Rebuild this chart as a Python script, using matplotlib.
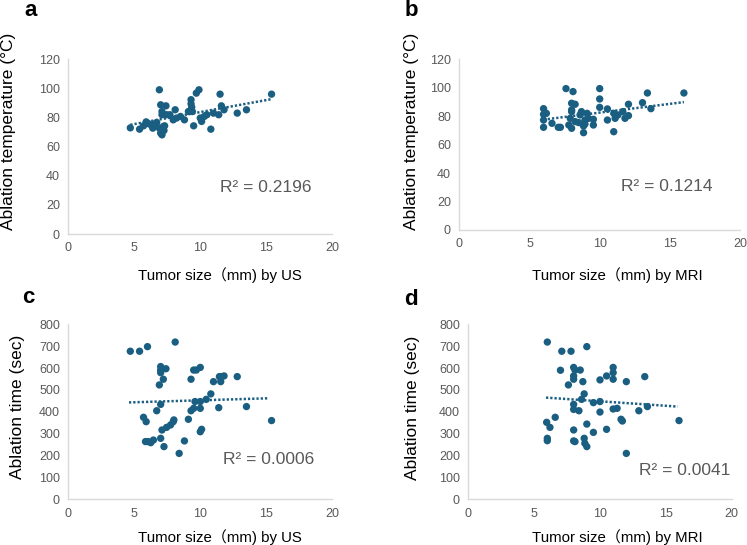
import numpy as np
import matplotlib
matplotlib.use("Agg")
import matplotlib.pyplot as plt

plt.rcParams['font.family'] = ['Liberation Sans', 'Noto Sans CJK SC', 'DejaVu Sans']

# panel a: tumor size by US vs ablation temperature
us_size_temp = [4.7, 5.4, 5.7, 5.9, 6.1, 6.3, 6.4, 6.6, 6.7, 6.9, 6.9, 7.0, 7.1, 7.0, 7.1, 7.1,
                7.2, 7.25, 7.3, 7.4, 7.45, 7.7, 7.95, 8.1, 8.2, 8.5, 8.8, 9.1, 9.3, 9.3, 9.35,
                9.4, 9.5, 9.7, 9.9, 10.0, 10.1, 10.3, 10.5, 10.8, 11.0, 11.4, 11.5, 11.6, 11.8,
                12.8, 13.5, 15.4]
temp_a = [72.8, 71.9, 74.2, 76.9, 75.6, 74.7, 72.6, 75.6, 76.5, 98.9, 72.6, 69.2, 68.0, 88.6,
          84.0, 81.8, 73.7, 71.0, 74.2, 87.9, 81.8, 81.8, 78.3, 85.2, 79.5, 80.6, 78.3, 84.0,
          92.1, 89.3, 87.0, 84.0, 74.2, 96.6, 98.9, 79.5, 77.2, 80.6, 81.8, 71.9, 82.9, 81.8,
          95.9, 87.9, 85.2, 82.9, 85.2, 95.9]

# panel b: tumor size by MRI vs ablation temperature
mri_size_temp = [6.0, 6.0, 6.2, 6.0, 6.0, 6.6, 7.05, 7.2, 7.6, 8.1, 8.0, 8.25, 8.0, 8.0, 7.9,
                 7.8, 8.0, 8.25, 8.5, 8.7, 8.6, 8.85, 8.85, 8.95, 9.1, 9.2, 8.95, 9.55, 9.55,
                 10.0, 10.0, 10.0, 10.55, 10.55, 11.0, 11.1, 11.0, 11.3, 11.65, 11.8, 12.05,
                 12.05, 13.05, 13.4, 13.65, 16.0]
temp_b = [85.3, 81.3, 82.0, 77.3, 72.2, 75.0, 72.2, 72.2, 99.4, 97.3, 89.1, 88.4, 84.4, 83.2,
          78.5, 73.8, 71.5, 76.2, 75.5, 83.2, 80.9, 73.1, 68.4, 77.3, 82.0, 78.5, 74.5, 77.8,
          73.8, 99.4, 92.1, 86.2, 85.1, 77.3, 82.0, 78.5, 69.1, 80.9, 83.2, 78.5, 80.4, 88.4,
          89.5, 96.3, 85.3, 96.3]

# panel c: tumor size by US vs ablation time
us_size_time = [4.7, 5.4, 6.0, 8.1, 7.0, 7.0, 7.0, 7.4, 7.2, 6.9, 7.0, 6.7, 5.7, 5.9, 5.85,
                6.05, 6.25, 6.45, 7.0, 7.25, 7.1, 7.45, 7.75, 7.95, 8.0, 8.4, 8.8, 9.1, 9.3,
                9.5, 9.7, 10.0, 9.3, 9.5, 9.6, 10.0, 10.0, 10.1, 10.0, 10.45, 10.8, 11.0,
                11.45, 11.55, 11.6, 11.8, 11.4, 12.8, 13.5, 15.4]
time_c = [677, 677, 698, 719, 607, 591, 579, 597, 549, 523, 434, 405, 375, 355, 264, 264, 259,
          271, 279, 241, 317, 329, 340, 355, 363, 210, 267, 366, 549, 591, 591, 603, 405, 416,
          447, 416, 447, 320, 309, 457, 482, 538, 561, 538, 561, 564, 419, 561, 424, 360]

# panel d: tumor size by MRI vs ablation time
mri_size_time = [6.0, 7.1, 7.8, 9.0, 7.0, 8.0, 8.1, 8.5, 8.0, 8.0, 8.7, 7.6, 8.8, 8.6, 8.0,
                 8.0, 8.4, 9.5, 10.0, 10.0, 10.0, 10.5, 11.0, 11.0, 11.0, 12.0, 11.0, 11.3,
                 11.6, 11.7, 12.95, 13.4, 13.6, 16.0, 5.95, 6.2, 6.0, 6.0, 6.6, 8.0, 8.0, 8.1,
                 8.8, 8.85, 9.0, 9.0, 9.5, 10.5, 12.0]
time_d = [719, 677, 677, 698, 590, 603, 591, 591, 564, 549, 538, 523, 482, 457, 434, 411, 405,
          442, 447, 399, 546, 564, 603, 579, 549, 538, 413, 416, 366, 358, 405, 561, 424, 360,
          352, 329, 279, 268, 375, 317, 267, 264, 279, 256, 241, 344, 306, 320, 210]

# linear trendlines as drawn in the figure: (x start, x end), (y start, y end)
trend_x = [(4.7, 15.4), (6.0, 16.0), (4.6, 15.2), (5.9, 15.9)]
trend_y = [(74.9, 92.5), (77.6, 89.9), (443, 462), (465, 424)]

panels = [
    ('a', us_size_temp, temp_a, 'Ablation temperature (°C)', 'Tumor size（mm) by US',
     [0, 20, 40, 60, 80, 100, 120], 'R² = 0.2196'),
    ('b', mri_size_temp, temp_b, 'Ablation temperature (°C)', 'Tumor size（mm) by MRI',
     [0, 20, 40, 60, 80, 100, 120], 'R² = 0.1214'),
    ('c', us_size_time, time_c, 'Ablation time (sec)', 'Tumor size（mm) by US',
     [0, 100, 200, 300, 400, 500, 600, 700, 800], 'R² = 0.0006'),
    ('d', mri_size_time, time_d, 'Ablation time (sec)', 'Tumor size（mm) by MRI',
     [0, 100, 200, 300, 400, 500, 600, 700, 800], 'R² = 0.0041'),
]

# axes rectangles in figure fractions, and label / text placement
rects = [[0.0914, 0.5706, 0.3534, 0.3211],
         [0.6149, 0.5780, 0.3758, 0.3132],
         [0.0914, 0.0838, 0.3534, 0.3211],
         [0.6269, 0.0838, 0.3526, 0.3211]]
ylab_pos = [(-0.225, 0.586), (-0.172, 0.577), (-0.193, 0.529), (-0.213, 0.525)]
xlab_pos = [(0.576, -0.234), (0.562, -0.264), (0.576, -0.214), (0.565, -0.214)]
r2_pos = [(11.5, 32), (11.5, 30.5), (11.7, 180), (13.0, 134)]
letter_pos = [(0.032, 0.970), (0.541, 0.970), (0.029, 0.444), (0.541, 0.441)]

dot_color = '#1a5e82'
grey = '#595959'

fig = plt.figure(figsize=(7.47, 5.45), dpi=100)

for i, (letter, x, y, ylab, xlab, yticks, r2) in enumerate(panels):
    ax = fig.add_axes(rects[i])
    ax.scatter(x, y, s=28, color=dot_color, edgecolors='none', zorder=3)
    ax.plot(trend_x[i], trend_y[i], color=dot_color, lw=1.8,
            linestyle=(0, (0.9, 0.8)), zorder=2)

    ax.set_xlim(0, 20)
    ax.set_ylim(yticks[0], yticks[-1])
    ax.set_xticks([0, 5, 10, 15, 20])
    ax.set_yticks(yticks)
    ax.tick_params(length=0, labelsize=9, labelcolor=grey, pad=6)
    for s in ['top', 'right']:
        ax.spines[s].set_visible(False)
    for s in ['left', 'bottom']:
        ax.spines[s].set_color('#d9d9d9')
        ax.spines[s].set_linewidth(1.0)

    ax.set_ylabel(ylab, fontsize=12.5, color='black')
    ax.yaxis.label.set_va('center')
    ax.yaxis.set_label_coords(*ylab_pos[i])
    ax.set_xlabel(xlab, fontsize=10.8, color='black')
    ax.xaxis.label.set_va('center')
    ax.xaxis.set_label_coords(*xlab_pos[i])

    ax.text(r2_pos[i][0], r2_pos[i][1], r2, fontsize=12.5, color=grey, va='center', ha='left')
    fig.text(letter_pos[i][0], letter_pos[i][1], letter, fontsize=16, fontweight='bold',
             va='baseline', ha='left')

fig.savefig('out.png', dpi=100)
